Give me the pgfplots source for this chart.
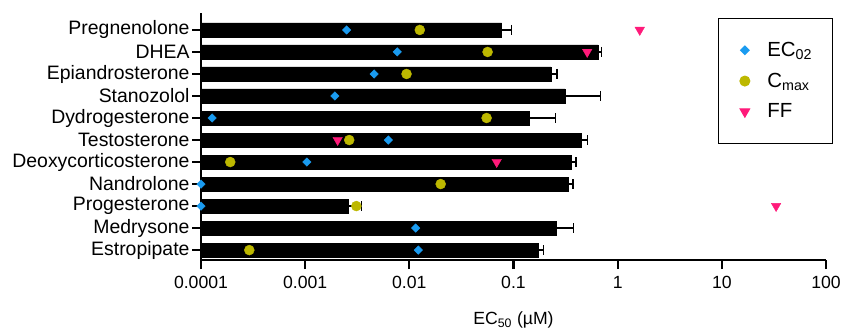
\documentclass[border=0pt]{standalone}
\usepackage{fontspec}
\setmainfont{Liberation Sans}
\usepackage{pgfplots}
\pgfplotsset{compat=1.18}
\definecolor{ecblue}{HTML}{1A9BF0}
\definecolor{cmaxy}{HTML}{BDB800}
\definecolor{ffpink}{HTML}{FF1A7A}
\begin{document}
\begin{tikzpicture}
\path[use as bounding box] (-201bp,-76bp) rectangle (649bp,260bp);
\begin{axis}[
  at={(0,0)}, anchor=south west,
  scale only axis, width=625bp, height=247bp,
  xmode=log, xmin=1e-4, xmax=100, log origin x=infty,
  ymin=-0.45, ymax=10.77,
  axis x line*=bottom, axis y line*=left,
  axis line style={-, line width=2.5bp},
  ytick={0,...,10},
  yticklabels={Estropipate,Medrysone,Progesterone,Nandrolone,Deoxycorticosterone,Testosterone,Dydrogesterone,Stanozolol,Epiandrosterone,DHEA,Pregnenolone},
  xtick={1e-4,1e-3,0.01,0.1,1,10,100},
  xticklabels={0.0001,0.001,0.01,0.1,1,10,100},
  xminorticks=false,
  tick align=outside, major tick length=9bp,
  every tick/.style={black, line width=2.2bp},
  yticklabel style={font=\fontsize{19.5}{19.5}\selectfont, xshift=1bp},
  xticklabel style={font=\fontsize{17.7}{18}\selectfont, yshift=-4bp},
  xlabel={EC\textsubscript{50} (µM)},
  xlabel style={font=\fontsize{17.7}{18}\selectfont, yshift=-16bp},
  clip=false,
  legend style={at={(0.827,0.98)}, anchor=north west, draw=black, line width=1bp,
    font=\fontsize{20.5}{20.5}\selectfont, inner xsep=18bp, inner ysep=22bp, row sep=11bp},
  legend cell align=left,
  legend image code/.code={\path (-8bp,0bp) (20bp,0bp); \draw[#1, only marks] plot coordinates {(0bp,0bp)};},
]
\addplot[xbar, bar width=14bp, fill=black, draw=black, forget plot,
  error bars/.cd, x dir=plus, x explicit, error mark=|,
  error bar style={line width=1.5bp, black},
  error mark options={line width=1.5bp, mark size=5bp, rotate=0}]
  table[x=v, y=y, x error=e] {
y v e
10 0.077 0.019
9 0.65 0.05
8 0.229 0.034
7 0.311 0.37
6 0.141 0.113
5 0.444 0.07
4 0.36 0.037
3 0.335 0.039
2 0.00259 0.0009
1 0.259 0.118
0 0.174 0.021
};
\addplot[only marks, mark=square*, mark size=3bp, mark options={rotate=45, fill=ecblue, draw=ecblue}]
  coordinates {(0.0025,10) (0.00766,9) (0.0046,8) (0.00193,7) (0.000128,6) (0.00628,5) (0.00104,4) (0.0001,3) (0.0001,2) (0.0115,1) (0.0122,0)};
\addlegendentry{EC\textsubscript{02}}
\addplot[only marks, mark=*, mark size=5bp, mark options={fill=cmaxy, draw=cmaxy}]
  coordinates {(0.0126,10) (0.0564,9) (0.0094,8) (0.0552,6) (0.00265,5) (0.000191,4) (0.0200,3) (0.0031,2) (0.000291,0)};
\addlegendentry{C\textsubscript{max}}
\addplot[only marks, mark=triangle*, mark size=5.5bp, mark options={rotate=180, fill=ffpink, draw=ffpink}]
  coordinates {(1.63,10) (0.51,9) (0.00205,5) (0.069,4) (33.2,2)};
\addlegendentry{FF}
\end{axis}
\end{tikzpicture}
\end{document}
